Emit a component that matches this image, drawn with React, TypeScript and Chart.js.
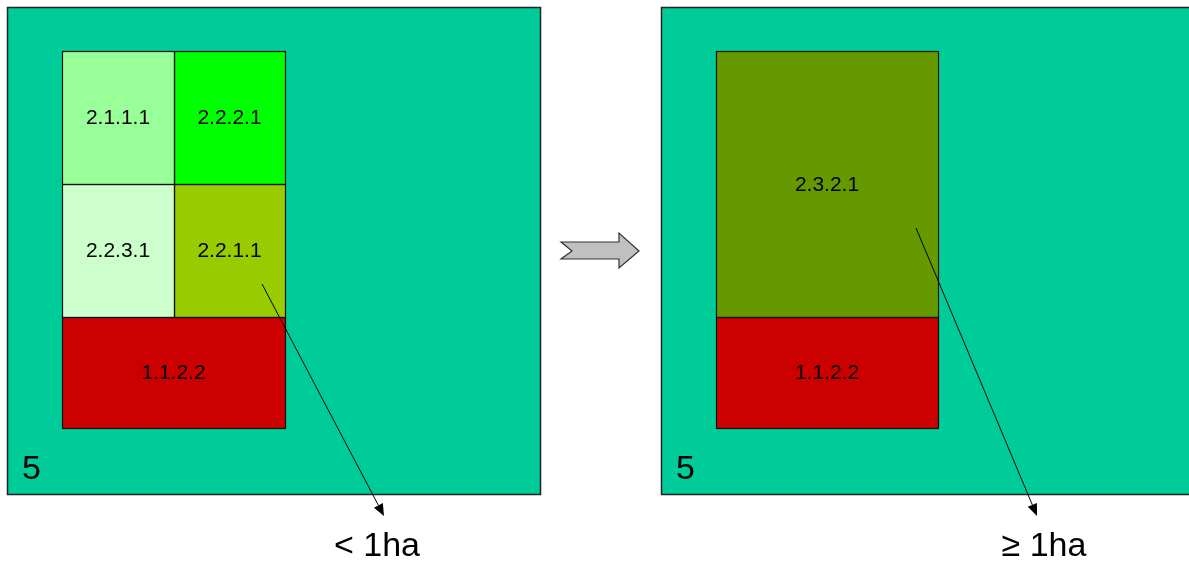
import React, { useEffect, useRef } from "react";
import { Chart, registerables } from "chart.js";

Chart.register(...registerables);

// Diagram coordinate system (units = reference layout units)
const X_MAX = 1189;
const Y_MAX = 563;

// Outer parcels ("5")
const panelLabels = ["5", "5"];
const panelX0 = [7, 661];
const panelX1 = [540, 1195];
const panelY0 = [7, 7];
const panelY1 = [494, 494];
const panelColor = "#00CC99";

// Inner cells
const cellLabels = ["2.1.1.1", "2.2.2.1", "2.2.3.1", "2.2.1.1", "1.1.2.2", "2.3.2.1", "1.1.2.2"];
const cellX0 = [62, 174, 62, 174, 62, 716, 716];
const cellX1 = [174, 285, 174, 285, 285, 938, 938];
const cellY0 = [51, 51, 184, 184, 317, 51, 317];
const cellY1 = [184, 184, 317, 317, 428, 317, 428];
const cellColors = ["#99FF99", "#00FF00", "#CCFFCC", "#99CC00", "#CC0000", "#669900", "#CC0000"];

// Pointer arrows and their captions
const pointerLabels = ["< 1ha", "\u2265 1ha"];
const pointerFromX = [262, 916];
const pointerFromY = [284, 228];
const pointerToX = [384, 1037];
const pointerToY = [516, 516];
const captionX = [377, 1044];
const captionY = [556, 556];

// Block arrow between panels
const blockArrowX = [561, 619, 619, 639, 619, 619, 561, 572];
const blockArrowY = [242, 242, 233, 251, 268, 259, 259, 251];

const FONT = "'Liberation Sans', Arial, Helvetica, sans-serif";

const diagramPlugin = {
  id: "diagram",
  afterDatasetsDraw(chart: any) {
    const ctx = chart.ctx as CanvasRenderingContext2D;
    const xs = chart.scales.x;
    const ys = chart.scales.y;
    const px = (v: number) => xs.getPixelForValue(v);
    const py = (v: number) => ys.getPixelForValue(v);
    ctx.save();

    // panels
    for (let i = 0; i < panelLabels.length; i++) {
      const x0 = px(panelX0[i]), x1 = px(panelX1[i]);
      const y0 = py(panelY0[i]), y1 = py(panelY1[i]);
      ctx.fillStyle = panelColor;
      ctx.fillRect(x0, y0, x1 - x0, y1 - y0);
      ctx.strokeStyle = "#222";
      ctx.lineWidth = 1.5;
      ctx.strokeRect(Math.round(x0) + 0.5, Math.round(y0) + 0.5, x1 - x0, y1 - y0);
      ctx.fillStyle = "#000";
      ctx.font = `34px ${FONT}`;
      ctx.textAlign = "left";
      ctx.textBaseline = "alphabetic";
      ctx.fillText(panelLabels[i], x0 + 15, py(479));
    }

    // cells
    for (let i = 0; i < cellLabels.length; i++) {
      const x0 = px(cellX0[i]), x1 = px(cellX1[i]);
      const y0 = py(cellY0[i]), y1 = py(cellY1[i]);
      ctx.fillStyle = cellColors[i];
      ctx.fillRect(x0, y0, x1 - x0, y1 - y0);
    }
    for (let i = 0; i < cellLabels.length; i++) {
      const x0 = px(cellX0[i]), x1 = px(cellX1[i]);
      const y0 = py(cellY0[i]), y1 = py(cellY1[i]);
      ctx.strokeStyle = "#111";
      ctx.lineWidth = 1.2;
      ctx.strokeRect(Math.round(x0) + 0.5, Math.round(y0) + 0.5, x1 - x0, y1 - y0);
      ctx.fillStyle = "#000";
      ctx.font = `21px ${FONT}`;
      ctx.textAlign = "center";
      ctx.textBaseline = "middle";
      ctx.fillText(cellLabels[i], (x0 + x1) / 2, (y0 + y1) / 2 + 1);
    }

    // block arrow
    ctx.beginPath();
    for (let i = 0; i < blockArrowX.length; i++) {
      const x = px(blockArrowX[i]), y = py(blockArrowY[i]);
      if (i === 0) ctx.moveTo(x, y); else ctx.lineTo(x, y);
    }
    ctx.closePath();
    ctx.fillStyle = "#C0C0C0";
    ctx.fill();
    ctx.strokeStyle = "#333";
    ctx.lineWidth = 1.2;
    ctx.stroke();

    // pointer arrows
    for (let i = 0; i < pointerLabels.length; i++) {
      const x0 = px(pointerFromX[i]), y0 = py(pointerFromY[i]);
      const x1 = px(pointerToX[i]), y1 = py(pointerToY[i]);
      const ang = Math.atan2(y1 - y0, x1 - x0);
      const headLen = 12, headW = 5;
      const bx = x1 - headLen * Math.cos(ang), by = y1 - headLen * Math.sin(ang);
      ctx.strokeStyle = "#000";
      ctx.lineWidth = 1;
      ctx.beginPath();
      ctx.moveTo(x0, y0);
      ctx.lineTo(bx, by);
      ctx.stroke();
      ctx.beginPath();
      ctx.moveTo(x1, y1);
      ctx.lineTo(bx + headW * Math.sin(ang), by - headW * Math.cos(ang));
      ctx.lineTo(bx - headW * Math.sin(ang), by + headW * Math.cos(ang));
      ctx.closePath();
      ctx.fillStyle = "#000";
      ctx.fill();

      ctx.font = `34px ${FONT}`;
      ctx.textAlign = "center";
      ctx.textBaseline = "alphabetic";
      ctx.fillText(pointerLabels[i], px(captionX[i]), py(captionY[i]));
    }
    ctx.restore();
  },
};

export default function App() {
  const ref = useRef<HTMLCanvasElement | null>(null);
  useEffect(() => {
    if (!ref.current) return;
    const chart = new Chart(ref.current, {
      type: "scatter",
      data: { datasets: [{ data: [], pointRadius: 0 }] },
      options: {
        animation: false,
        responsive: false,
        maintainAspectRatio: false,
        layout: { padding: 0 },
        plugins: { legend: { display: false }, tooltip: { enabled: false }, title: { display: false } },
        scales: {
          x: { type: "linear", min: 0, max: X_MAX, display: false },
          y: { type: "linear", min: 0, max: Y_MAX, reverse: true, display: false },
        },
      },
      plugins: [diagramPlugin],
    });
    return () => chart.destroy();
  }, []);
  return (
    <div style={{ position: "fixed", left: 0, top: 0, width: X_MAX, height: Y_MAX, background: "#fff" }}>
      <canvas ref={ref} width={X_MAX} height={Y_MAX} style={{ display: "block" }} />
    </div>
  );
}
